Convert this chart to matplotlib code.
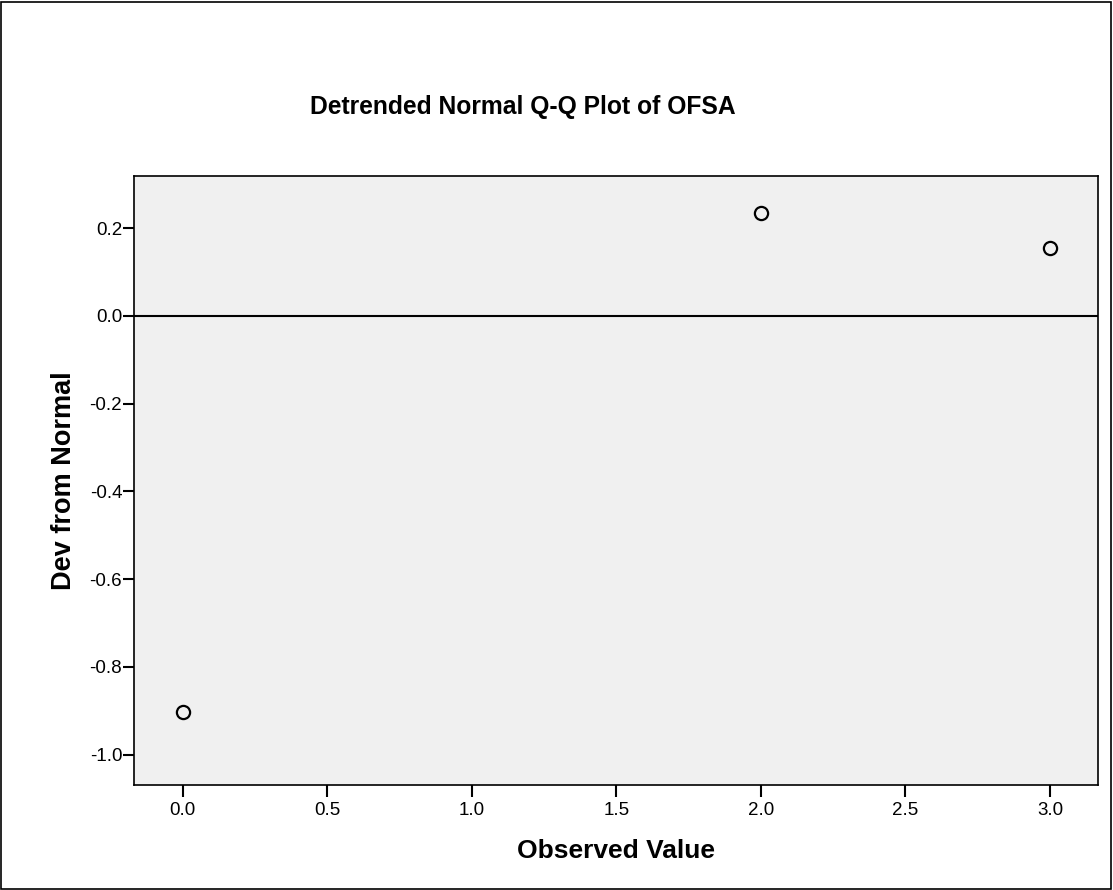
import matplotlib
matplotlib.use("Agg")
import matplotlib.pyplot as plt
from matplotlib.patches import Rectangle

# observed values and their deviation from normal
observed = [0.0, 2.0, 3.0]
deviation = [-0.903, 0.234, 0.154]
xticks = [0.0, 0.5, 1.0, 1.5, 2.0, 2.5, 3.0]
yticks = [-1.0, -0.8, -0.6, -0.4, -0.2, 0.0, 0.2]

plt.rcParams['font.family'] = ['Liberation Sans', 'DejaVu Sans']

fig = plt.figure(figsize=(11.13, 8.9), dpi=100)
W, H = 1113, 890
left, right, top, bottom = 134, 1098, 176, 785
ax = fig.add_axes([left / W, 1 - bottom / H, (right - left) / W, (bottom - top) / H])
ax.set_facecolor('#f0f0f0')

ax.axhline(0, color='black', linewidth=1.5, zorder=1)
ax.plot(observed, deviation, linestyle='none', marker='o', markersize=9.5,
        markerfacecolor='none', markeredgecolor='black', markeredgewidth=1.6, zorder=3)

ax.set_xlim(-0.168, 3.166)
ax.set_ylim(-1.069, 0.319)
ax.set_xticks(xticks)
ax.set_yticks(yticks)
ax.set_xticklabels([f"{v:.1f}" for v in xticks])
ax.set_yticklabels([f"{v:.1f}" for v in yticks])
ax.tick_params(axis='both', direction='out', width=1.5, colors='black', labelsize=13.5)
ax.tick_params(axis='x', length=8.5, pad=4)
ax.tick_params(axis='y', length=8, pad=0.5)
for s in ax.spines.values():
    s.set_linewidth(1.2)

ax.set_xlabel("Observed Value", fontsize=19, fontweight='bold', labelpad=14)
ax.set_ylabel("Dev from Normal", fontsize=19.5, fontweight='bold', labelpad=9)
fig.text(523 / W, 1 - 107 / H, "Detrended Normal Q-Q Plot of OFSA",
         ha='center', va='center', fontsize=17.7, fontweight='bold')

# outer border round the whole chart
fig.patches.append(Rectangle((0.001, 0.001), 0.997, 0.997, transform=fig.transFigure,
                             fill=False, edgecolor='black', linewidth=1.2))

fig.savefig("out.png", dpi=100)
